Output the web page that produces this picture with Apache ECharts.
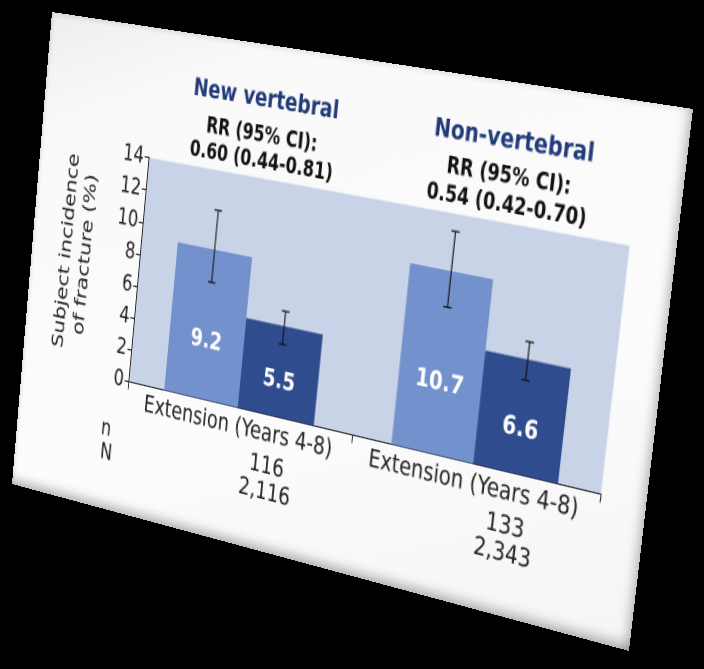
<!DOCTYPE html>
<html>
<head>
<meta charset="utf-8">
<script src="https://cdn.jsdelivr.net/npm/echarts/dist/echarts.min.js"></script>
<style>
  html, body { margin:0; padding:0; background:#000; width:704px; height:669px; overflow:hidden; }
  #card { position:absolute; left:0; top:0; transform-origin:0 0;
    background: linear-gradient(160deg, #ededed 0%, #f9f9f9 15%, #fcfcfc 60%, #f5f5f5 100%);
    box-shadow: inset 0 -9px 9px -5px rgba(0,0,0,0.28), inset -9px 0 9px -5px rgba(0,0,0,0.22), inset 3px 3px 4px -2px rgba(0,0,0,0.10);
  }
  #chart { position:absolute; left:0; top:0; }
</style>
</head>
<body>
<div id="card"><div id="chart"></div></div>
<script>
// ---------------- data ----------------
const categories = ['Extension (Years 4-8)', 'Extension (Years 4-8)'];
const groupTitles = ['New vertebral', 'Non-vertebral'];
const rrHeaders = ['RR (95% CI):', 'RR (95% CI):'];
const rrValues = ['0.60 (0.44-0.81)', '0.54 (0.42-0.70)'];
const seriesNames = ['Cross-over', 'Long-term'];
const lightValues = [9.2, 10.7];
const darkValues = [5.5, 6.6];
const lightCI = [[7.2, 11.6], [8.6, 13.0]];
const darkCI = [[4.4, 6.4], [5.4, 7.6]];
const nValues = ['116', '133'];
const NValues = ['2,116', '2,343'];
const rowLabels = ['n', 'N'];
const yAxisTitle = ['Subject incidence', 'of fracture (%)'];
const yMin = 0, yMax = 14, yStep = 2;

// ---------------- perspective helpers ----------------
const W = 640, H = 380;
const cardScreen = [[52,12],[693,109],[629,651],[12,484]];
const flatRect = [[0,0],[W,0],[W,H],[0,H]];
function solveLinear(A, b){
  const n = b.length; const M = A.map((r,i)=>r.concat([b[i]]));
  for (let c=0;c<n;c++){
    let p=c; for(let r=c+1;r<n;r++) if(Math.abs(M[r][c])>Math.abs(M[p][c])) p=r;
    const t=M[c]; M[c]=M[p]; M[p]=t;
    for(let r=0;r<n;r++){ if(r===c) continue; const f=M[r][c]/M[c][c]; for(let k=c;k<=n;k++) M[r][k]-=f*M[c][k]; }
  }
  return M.map((row,i)=>row[n]/row[i]);
}
function homography(src, dst){
  const A=[], b=[];
  for(let i=0;i<4;i++){
    const [x,y]=src[i], [u,v]=dst[i];
    A.push([x,y,1,0,0,0,-x*u,-y*u]); b.push(u);
    A.push([0,0,0,x,y,1,-x*v,-y*v]); b.push(v);
  }
  return solveLinear(A,b);
}
function applyH(h, p){ const w=h[6]*p[0]+h[7]*p[1]+1; return [(h[0]*p[0]+h[1]*p[1]+h[2])/w,(h[3]*p[0]+h[4]*p[1]+h[5])/w]; }
const Hf = homography(flatRect, cardScreen);
const Hi = homography(cardScreen, flatRect);
const toFlat = p => applyH(Hi, p);

const card = document.getElementById('card');
card.style.width = W+'px'; card.style.height = H+'px';
card.style.transform = `matrix3d(${Hf[0]},${Hf[3]},0,${Hf[6]},${Hf[1]},${Hf[4]},0,${Hf[7]},0,0,1,0,${Hf[2]},${Hf[5]},0,1)`;
const chartDom = document.getElementById('chart');
chartDom.style.width = W+'px'; chartDom.style.height = H+'px';

// layout anchors measured on the reference (screen px)
const plotTL = toFlat([149,159]), plotTR = toFlat([629,244]), plotBR = toFlat([602,493]), plotBL = toFlat([129,383]);
const gLeft = (plotTL[0]+plotBL[0])/2, gRight = W-(plotTR[0]+plotBR[0])/2;
const gTop = (plotTL[1]+plotTR[1])/2, gBottom = H-(plotBL[1]+plotBR[1])/2;
const plotW = W-gLeft-gRight, axisY = H-gBottom;
const catCenter = i => gLeft + (i+0.5)*plotW/2;

const titlePos = [toFlat([265,100]), toFlat([513,141])];
const rrHeadPos = [toFlat([261,136]), toFlat([508,177])];
const rrValPos = [toFlat([260,162]), toFlat([505,206])];
const yNamePos = toFlat([76,253]);
const rowLabelPos = [toFlat([106,429]), toFlat([106,453])];
const catLabelPos = [toFlat([238,427]), toFlat([480,487])];
const nPos = [toFlat([260,465]), toFlat([512,529])];
const NPos = [toFlat([258,491]), toFlat([505,555])];

const FONT = 'DejaVu Sans';
const catLH = 22;
const catMargin = ((catLabelPos[0][1]+catLabelPos[1][1])/2 - axisY) - catLH/2;
const nLH = ((NPos[0][1]-nPos[0][1]) + (NPos[1][1]-nPos[1][1]))/2;
const nMargin = ((nPos[0][1]+nPos[1][1])/2 - axisY) - nLH/2;
const nShift = ((nPos[0][0]-catCenter(0)) + (nPos[1][0]-catCenter(1)))/2;

const GAP = 0.33;
function errorSeries(ci, side){
  return {
    type:'custom', z:10, silent:true,
    data: ci.map((c,i)=>[i,c[0],c[1]]),
    renderItem(params, api){
      const x = api.value(0);
      const lo = api.coord([x, api.value(1)]);
      const hi = api.coord([x, api.value(2)]);
      const catW = api.size([1,0])[0];
      const barW = catW*(1-GAP)/2;
      const cx = lo[0] + side*barW/2;
      const cap = 4;
      const st = {stroke:'#111', lineWidth:1.1};
      return {type:'group', children:[
        {type:'line', shape:{x1:cx,y1:hi[1],x2:cx,y2:lo[1]}, style:st},
        {type:'line', shape:{x1:cx-cap,y1:hi[1],x2:cx+cap,y2:hi[1]}, style:st},
        {type:'line', shape:{x1:cx-cap,y1:lo[1],x2:cx+cap,y2:lo[1]}, style:st}
      ]};
    }
  };
}

const barLabel = {show:true, position:['50%','61%'], align:'center', verticalAlign:'middle',
  color:'#fff', fontWeight:'bold', fontSize:19, fontFamily:FONT};

const graphics = [];
groupTitles.forEach((t,i)=>graphics.push({type:'text', x:titlePos[i][0], y:titlePos[i][1],
  style:{text:t, align:'center', verticalAlign:'middle', fill:'#213b78', font:`bold 19px "${FONT}"`}}));
rrHeaders.forEach((t,i)=>graphics.push({type:'text', x:rrHeadPos[i][0], y:rrHeadPos[i][1],
  style:{text:t, align:'center', verticalAlign:'middle', fill:'#111', font:`bold 16.5px "${FONT}"`}}));
rrValues.forEach((t,i)=>graphics.push({type:'text', x:rrValPos[i][0], y:rrValPos[i][1],
  style:{text:t, align:'center', verticalAlign:'middle', fill:'#111', font:`bold 16.5px "${FONT}"`}}));
rowLabels.forEach((t,i)=>graphics.push({type:'text', x:rowLabelPos[i][0], y:rowLabelPos[i][1],
  style:{text:t, align:'center', verticalAlign:'middle', fill:'#222', font:`18px "${FONT}"`}}));
graphics.push({type:'text', x:yNamePos[0], y:yNamePos[1], rotation:Math.PI/2,
  style:{text:yAxisTitle.join('\n'), align:'center', verticalAlign:'middle', fill:'#222', font:`17.5px "${FONT}"`, lineHeight:22}});

const chart = echarts.init(chartDom, null, {devicePixelRatio:2});
chart.setOption({
  animation:false,
  backgroundColor:'transparent',
  grid:{left:gLeft, right:gRight, top:gTop, bottom:gBottom, show:true, backgroundColor:'#c9d3e7', borderWidth:0},
  xAxis:[{
    type:'category', data:categories,
    axisLine:{show:true, lineStyle:{color:'#333', width:1}},
    axisTick:{show:true, length:6, lineStyle:{color:'#333'}},
    axisLabel:{margin:catMargin, fontSize:19, fontFamily:FONT, color:'#222', lineHeight:catLH, interval:0}
  },{
    type:'category', data:nValues.map((v,i)=>v+'\n'+NValues[i]), position:'bottom',
    axisLine:{show:false}, axisTick:{show:false},
    axisLabel:{margin:nMargin, fontSize:19, fontFamily:FONT, color:'#222', lineHeight:nLH, interval:0,
      padding: nShift>0 ? [0,0,0,2*nShift] : [0,-2*nShift,0,0]}
  }],
  yAxis:{type:'value', min:yMin, max:yMax, interval:yStep,
    axisLine:{show:true, lineStyle:{color:'#222', width:1}},
    axisTick:{show:true, length:5, lineStyle:{color:'#222'}},
    splitLine:{show:false},
    axisLabel:{fontSize:18, fontFamily:FONT, color:'#222', margin:6}
  },
  series:[
    {name:seriesNames[0], type:'bar', data:lightValues, barGap:'0%', barCategoryGap:(GAP*100)+'%',
      itemStyle:{color:'#7391cd'}, label:barLabel},
    {name:seriesNames[1], type:'bar', data:darkValues, barGap:'0%', barCategoryGap:(GAP*100)+'%',
      itemStyle:{color:'#2e4c8e'}, label:barLabel},
    errorSeries(lightCI, -1),
    errorSeries(darkCI, 1)
  ],
  graphic: graphics
});
</script>
</body>
</html>
